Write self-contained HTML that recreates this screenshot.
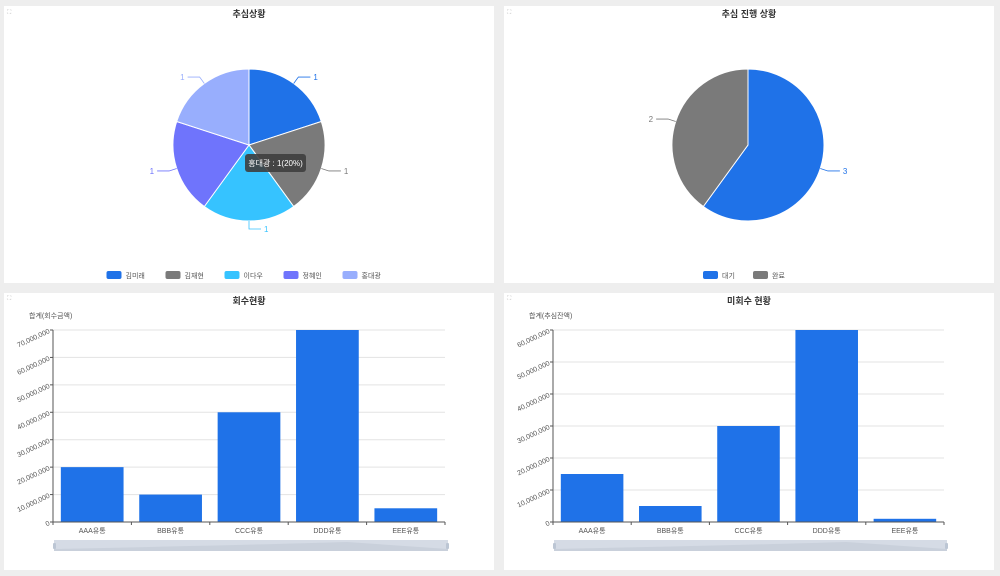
<!DOCTYPE html>
<html><head><meta charset="utf-8">
<style>
html,body{margin:0;padding:0;background:#eeeeee;}
svg{display:block;font-family:"Liberation Sans","Noto Sans CJK KR",sans-serif;}
</style></head>
<body>
<svg id="c" width="1000" height="576" viewBox="0 0 1000 576">
<rect x="4" y="6" width="490" height="277" fill="#fff"/>
<rect x="504" y="6" width="490" height="277" fill="#fff"/>
<rect x="4" y="293" width="490" height="277" fill="#fff"/>
<rect x="504" y="293" width="490" height="277" fill="#fff"/>
<g id="g"></g>
</svg>
<script>
// Pie 1 data
const pie1Labels = ["김미래","김재현","이다우","정혜인","홍대광"];
const pie1Values = [1,1,1,1,1];
const pie1Colors = ["#1f72e8","#7a7a7a","#36c3ff","#6f74fc","#98aefd"];
// Pie 2 data
const pie2Labels = ["대기","완료"];
const pie2Values = [3,2];
const pie2Colors = ["#1f72e8","#7a7a7a"];
// Bar 1 data
const bar1Cats = ["AAA유통","BBB유통","CCC유통","DDD유통","EEE유통"];
const bar1Values = [20000000,10000000,40000000,70000000,5000000];
const bar1Ticks = [0,10000000,20000000,30000000,40000000,50000000,60000000,70000000];
// Bar 2 data
const bar2Cats = ["AAA유통","BBB유통","CCC유통","DDD유통","EEE유통"];
const bar2Values = [15000000,5000000,30000000,60000000,1000000];
const bar2Ticks = [0,10000000,20000000,30000000,40000000,50000000,60000000];

const NS="http://www.w3.org/2000/svg";
const G=document.getElementById('g');
function mk(tag,attrs,parent,text){const e=document.createElementNS(NS,tag);for(const k in attrs)e.setAttribute(k,attrs[k]);if(text!==undefined)e.textContent=text;(parent||G).appendChild(e);return e;}

function title(x,y,t){
  const e=mk('text',{x:x,y:y,'text-anchor':'middle','font-size':9,'font-weight':'bold',fill:'#333'},G,t);
  
  
}
function expandIcon(x,y){
  const e=mk('text',{x:x,y:y,'font-size':6,fill:'#bbb'},G,'⛶');
  
  
}

function pie(cx,cy,r,labels,values,colors,legendY){
  const tot=values.reduce((a,b)=>a+b,0);
  let a0=-Math.PI/2;
  values.forEach((v,i)=>{
    const a1=a0+v/tot*2*Math.PI;
    const x0=cx+r*Math.cos(a0),y0=cy+r*Math.sin(a0),x1=cx+r*Math.cos(a1),y1=cy+r*Math.sin(a1);
    const large=(a1-a0)>Math.PI?1:0;
    const p=mk('path',{d:`M${cx},${cy}L${x0},${y0}A${r},${r} 0 ${large} 1 ${x1},${y1}Z`,fill:colors[i],stroke:'#fff','stroke-width':1});
    
    
    const am=(a0+a1)/2,c=Math.cos(am),s=Math.sin(am);
    const ex=cx+(r+8)*c,ey=cy+(r+8)*s,hx=ex+(c>=0?12:-12);
    mk('path',{d:`M${cx+r*c},${cy+r*s}L${ex},${ey}L${hx},${ey}`,fill:'none',stroke:colors[i],'stroke-width':0.8});
    const t=mk('text',{x:hx+(c>=0?3:-3),y:ey+3,'text-anchor':c>=0?'start':'end','font-size':8,fill:colors[i]},G,String(v));
    
    
    a0=a1;
  });
  // legend
  const widths=labels.map(l=>22+l.length*9+10);
  const total=widths.reduce((a,b)=>a+b,0)-10;
  let lx=cx-total/2;
  labels.forEach((l,i)=>{
    const g=mk('g',{});
    
    
    mk('rect',{x:lx,y:legendY-4,width:15,height:8,rx:2,fill:colors[i]},g);
    mk('text',{x:lx+19,y:legendY+3,'font-size':7,fill:'#555'},g,l);
    lx+=widths[i];
  });
}

function bars(px0,px1,py0,py1,cats,vals,ticks,yTitle,panelX){
  const max=ticks[ticks.length-1];
  const y=v=>py1-(v/max)*(py1-py0);
  const bw=(px1-px0)/cats.length;
  const x=i=>px0+i*bw;
  ticks.forEach(t=>{
    if(t>0){const l=mk('line',{x1:px0,x2:px1,y1:y(t),y2:y(t),stroke:'#e3e3e3','stroke-width':1});
      }
    mk('line',{x1:px0-3,x2:px0,y1:y(t),y2:y(t),stroke:'#555'});
    const tl=mk('text',{x:px0-4,y:y(t)+3,'text-anchor':'end','font-size':7,fill:'#555',transform:`rotate(-25 ${px0-4} ${y(t)})`},G,t.toLocaleString('en-US'));
    
    
  });
  cats.forEach((c,i)=>{
    const b=mk('rect',{x:x(i)+bw*0.1,y:y(vals[i]),width:bw*0.8,height:py1-y(vals[i]),fill:'#1f72e8'});
    
    
    mk('line',{x1:x(i),x2:x(i),y1:py1,y2:py1+3,stroke:'#555'});
    const tl=mk('text',{x:x(i)+bw/2,y:py1+11,'text-anchor':'middle','font-size':7,fill:'#555'},G,c);
    
    
  });
  mk('line',{x1:px1,x2:px1,y1:py1,y2:py1+3,stroke:'#555'});
  mk('line',{x1:px0,x2:px0,y1:py0,y2:py1,stroke:'#555'});
  mk('line',{x1:px0,x2:px1,y1:py1,y2:py1,stroke:'#555'});
  const yt=mk('text',{x:panelX+25,y:py0-12,'font-size':7,fill:'#555'},G,yTitle);
  
  
  const dz=mk('g',{});
  
  
  mk('rect',{x:px0+1,y:540,width:px1-px0+2,height:11,fill:'#d5dbe5'},dz);
  mk('path',{d:`M${px0+1},549 Q${(px0+px1)/2},545 ${px0+(px1-px0)*0.75},542 L${px1+3},549 L${px1+3},551 L${px0+1},551Z`,fill:'#c9d0db'},dz);
  mk('rect',{x:px0,y:543,width:3,height:6,rx:1,fill:'#bcc6d4'},dz);
  mk('rect',{x:px1+1,y:543,width:3,height:6,rx:1,fill:'#bcc6d4'},dz);
}

title(249,17,'추심상황');
title(749,17,'추심 진행 상황');
title(249,304,'회수현황');
title(749,304,'미회수 현황');
[[7,14],[507,14],[7,300],[507,300]].forEach(p=>expandIcon(p[0],p[1]));

pie(249,145,76,pie1Labels,pie1Values,pie1Colors,275);
pie(748,145,76,pie2Labels,pie2Values,pie2Colors,275);

// tooltip
const tip=mk('g',{});


mk('rect',{x:245,y:154,width:61,height:18,rx:3,fill:'#3e3e3e',opacity:0.9},tip);
mk('text',{x:275.5,y:166,'text-anchor':'middle','font-size':8,fill:'#fff'},tip,'홍대광 : 1(20%)');

bars(53,445,330,522,bar1Cats,bar1Values,bar1Ticks,'합계(회수금액)',4);
bars(553,944,330,522,bar2Cats,bar2Values,bar2Ticks,'합계(추심잔액)',504);
</script>
</body></html>
